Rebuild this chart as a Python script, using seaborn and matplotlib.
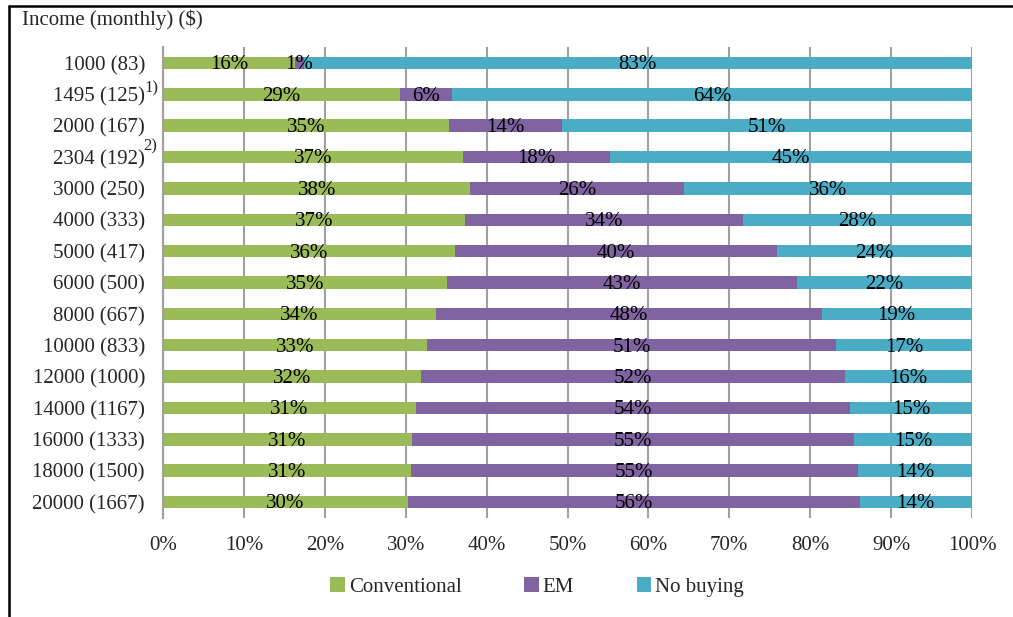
import matplotlib
matplotlib.use("Agg")
import matplotlib.pyplot as plt
from matplotlib.lines import Line2D
from matplotlib.patches import Patch
import seaborn as sns
import numpy as np

categories = ["1000 (83)", "1495 (125)", "2000 (167)", "2304 (192)", "3000 (250)",
              "4000 (333)", "5000 (417)", "6000 (500)", "8000 (667)", "10000 (833)",
              "12000 (1000)", "14000 (1167)", "16000 (1333)", "18000 (1500)", "20000 (1667)"]
conventional = [16.3, 29.3, 35.4, 37.1, 38.0, 37.3, 36.1, 35.1, 33.7, 32.6, 31.9, 31.3, 30.8, 30.6, 30.3]
em = [1.1, 6.4, 13.9, 18.2, 26.4, 34.4, 39.8, 43.3, 47.7, 50.6, 52.4, 53.6, 54.6, 55.3, 55.8]
no_buying = [82.6, 64.3, 50.7, 44.7, 35.6, 28.3, 24.1, 21.6, 18.6, 16.8, 15.7, 15.1, 14.6, 14.1, 13.9]
series_names = ["Conventional", "EM", "No buying"]
colors = ["#9BBB59", "#8064A2", "#4BACC6"]
xticks = list(range(0, 101, 10))
xtick_labels = [f"{t}%" for t in xticks]
title = "Income (monthly) ($)"

FS = 15

sns.set_style("white")
plt.rcParams["font.family"] = ["Liberation Serif", "DejaVu Serif"]

fig = plt.figure(figsize=(10.13, 6.17), dpi=100)
ax = fig.add_axes([163/1013, 1-517.7/617, 809/1013, (517.7-47.3)/617])

series = [conventional, em, no_buying]
cum = np.cumsum(np.array(series), axis=0)
# draw back to front so each stacked segment is visible
for i in range(len(series) - 1, -1, -1):
    sns.barplot(x=cum[i], y=categories, orient="h", color=colors[i], width=0.4,
                saturation=1, ax=ax, zorder=2, edgecolor="none")

# segment labels
for i, vals in enumerate(series):
    left = cum[i] - np.array(vals)
    for j, v in enumerate(vals):
        ax.text(left[j] + v / 2, j + 0.06, f"{v:.0f}%", ha="center", va="center",
                fontsize=FS, color="black", zorder=3)

ax.set_xlim(0, 100)
ax.set_ylim(14.5, -0.5)
ax.set_xticks(xticks)
ax.set_xticklabels(xtick_labels, fontsize=FS)
ax.set_xlabel("")
ax.set_ylabel("")
ax.tick_params(axis="y", labelsize=FS, length=0, pad=13)
ax.set_yticks(np.arange(-0.5, 15, 1), minor=True)
ax.tick_params(axis="y", which="minor", length=5, width=1.5, color="#A0A0A0", direction="out")
ax.tick_params(axis="x", length=5, width=1.5, color="#A0A0A0", direction="out", pad=8)
ax.xaxis.grid(True, color="#A0A0A0", linewidth=1.5, zorder=0)
ax.yaxis.grid(False)
ax.set_axisbelow(True)
for s in ["top", "right", "bottom"]:
    ax.spines[s].set_visible(False)
ax.spines["left"].set_color("#A0A0A0")
ax.spines["left"].set_linewidth(1.5)

# footnote marks
fig.text(144/1013, 1-88/617, "1)", fontsize=12, ha="left", va="center")
fig.text(143/1013, 1-146/617, "2)", fontsize=12, ha="left", va="center")

fig.text(22/1013, 1-20/617, title, fontsize=FS, ha="left", va="center")

# frame lines
fig.add_artist(Line2D([8.5/1013, 1], [1-5.5/617, 1-5.5/617], color="black", linewidth=1.8,
                      transform=fig.transFigure))
fig.add_artist(Line2D([8.5/1013, 8.5/1013], [0, 1-5.5/617], color="black", linewidth=1.8,
                      transform=fig.transFigure))

handles = [Patch(facecolor=c, edgecolor="none") for c in colors]
fig.legend(handles, series_names, loc="center", bbox_to_anchor=(537/1013, 1-587/617),
           ncol=3, frameon=False, fontsize=FS, handlelength=0.7, handleheight=0.7,
           handletextpad=0.2, columnspacing=3.0)

fig.savefig("out.png", dpi=100)
